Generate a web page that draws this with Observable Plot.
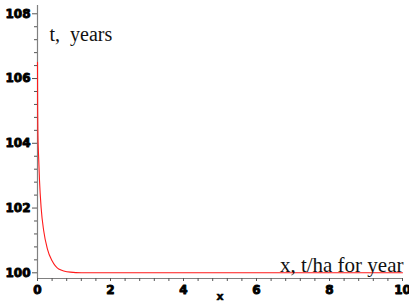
<!DOCTYPE html>
<html><head><meta charset="utf-8">
<script src="https://cdn.jsdelivr.net/npm/d3@7"></script>
<script src="https://cdn.jsdelivr.net/npm/@observablehq/plot@0.6"></script>
<style>
body{margin:0;background:#fff}#c svg{display:block}
</style>
</head><body><div id="c"></div>
<script>
const curveX = [0, 0.005, 0.01, 0.03, 0.055, 0.1, 0.17, 0.27, 0.4, 0.58, 0.9, 1.2, 10];
const curveY = [106.5, 105.0, 104.4, 103.6, 102.85, 102.0, 101.3, 100.74, 100.37, 100.12, 100.02, 100.0, 100.0];
const xMajor = [0, 2, 4, 6, 8, 10];
const xMinor = [0.4, 0.8, 1.2, 1.6, 2.4, 2.8, 3.2, 3.6, 4.4, 4.8, 5.2, 5.6, 6.4, 6.8, 7.2, 7.6, 8.4, 8.8, 9.2, 9.6];
const yMajor = [100, 102, 104, 106, 108];
const yMinor = [100.4, 100.8, 101.2, 101.6, 102.4, 102.8, 103.2, 103.6, 104.4, 104.8, 105.2, 105.6, 106.4, 106.8, 107.2, 107.6];
const yLabel = "t,  years";
const xLabel = "x, t/ha for year";
const xName = "x";

const data = curveX.map((x, i) => ({x, y: curveY[i]}));
const tickFont = {fontFamily: "DejaVu Sans", fontWeight: "bold", fontSize: 12, fill: "#000", stroke: "#000", strokeWidth: 0.9};

const chart = Plot.plot({
  width: 409, height: 303,
  marginLeft: 37, marginRight: 7, marginTop: 5, marginBottom: 25,
  x: {domain: [0, 10]},
  y: {domain: [99.824, 108.256]},
  style: {background: "#fff"},
  marks: [
    Plot.ruleX([0], {stroke: "#808080", strokeWidth: 1.2}),
    Plot.ruleY([99.824], {stroke: "#808080", strokeWidth: 1.2}),
    Plot.axisY(yMajor, {tickSize: 5, text: null, stroke: "#555", label: null}),
    Plot.axisY(yMinor, {tickSize: 3, text: null, stroke: "#555", label: null}),
    Plot.axisX(xMajor, {tickSize: 3, text: null, stroke: "#555", label: null}),
    Plot.axisX(xMinor, {tickSize: 3, text: null, stroke: "#555", label: null}),
    Plot.text(yMajor, {y: d => d, text: d => String(d), frameAnchor: "left", dx: -7, textAnchor: "end", ...tickFont}),
    Plot.text(xMajor, {x: d => d, text: d => String(d), frameAnchor: "bottom", dy: 7, lineAnchor: "top", ...tickFont}),
    Plot.line(data, {x: "x", y: "y", stroke: "#ff1a1a", strokeWidth: 1.1, curve: "monotone-x"}),
    Plot.text([yLabel], {frameAnchor: "top-left", dx: 12, dy: 21, text: d => d, fontFamily: "Liberation Serif", fontSize: 20, fill: "#111", textAnchor: "start", lineAnchor: "top"}),
    Plot.text([xLabel], {frameAnchor: "bottom-right", dx: 1, dy: -7, text: d => d, fontFamily: "Liberation Serif", fontSize: 21, fill: "#111", textAnchor: "end", lineAnchor: "bottom"}),
    Plot.text([xName], {frameAnchor: "bottom", dx: 0, dy: 21, text: d => d, fontFamily: "DejaVu Sans", fontWeight: "bold", fontSize: 11, fill: "#000", stroke: "#000", strokeWidth: 0.5})
  ]
});
document.getElementById("c").appendChild(chart);
</script>
</body></html>
